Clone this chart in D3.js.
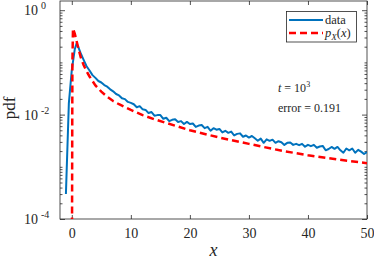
<!DOCTYPE html>
<html>
<head>
<meta charset="utf-8">
<title>pdf</title>
<script src="https://cdn.jsdelivr.net/npm/d3@7"></script>
<style>
  body { margin: 0; background: #fff; }
  text { font-family: "Liberation Serif", "Times New Roman", serif; fill: #262626; }
</style>
</head>
<body>
<script>
// simulated histogram (blue) and p_X(x) (red dashed)
var dataX = [-1, -0.5, 0, 0.5, 0.8, 1, 1.5, 2, 2.5, 3, 3.5, 4, 4.5, 5, 5.5, 6, 6.5, 7, 7.5, 8, 8.5, 9, 9.5, 10,
  10.5, 11, 11.5, 12, 12.5, 13, 13.5, 14, 14.5, 15, 15.5, 16, 16.5, 17, 17.5, 18, 18.5, 19, 19.5, 20,
  20.5, 21, 21.5, 22, 22.5, 23, 23.5, 24, 24.5, 25, 25.5, 26, 26.5, 27, 27.5, 28, 28.5, 29, 29.5, 30,
  30.5, 31, 31.5, 32, 32.5, 33, 33.5, 34, 34.5, 35, 35.5, 36, 36.5, 37, 37.5, 38, 38.5, 39, 39.5, 40,
  40.5, 41, 41.5, 42, 42.5, 43, 43.5, 44, 44.5, 45, 45.5, 46, 46.5, 47, 47.5, 48, 48.5, 49, 49.5, 50];
var dataPdf = [0.000302, 0.0166, 0.072, 0.178, 0.229, 0.209, 0.150, 0.112, 0.0845, 0.0700, 0.0570, 0.0505, 0.0440, 0.0412, 0.0368, 0.0343, 0.0305, 0.0279, 0.0248, 0.0233, 0.0205, 0.0198, 0.0175, 0.0168,
  0.0158, 0.0138, 0.0145, 0.0126, 0.0123, 0.0107, 0.0112, 0.00955, 0.00977, 0.00977, 0.00832, 0.00871, 0.00750, 0.00794, 0.00813, 0.00724, 0.00750, 0.00661, 0.00724, 0.00661,
  0.00676, 0.00582, 0.00617, 0.00631, 0.00550, 0.00582, 0.00490, 0.00550, 0.00513, 0.00531, 0.00457, 0.00490, 0.00447, 0.00473, 0.00398, 0.00427, 0.00437, 0.00376, 0.00398, 0.00363,
  0.00389, 0.00351, 0.00316, 0.00347, 0.00288, 0.00335, 0.00314, 0.00331, 0.00288, 0.00309, 0.00295, 0.00263, 0.00288, 0.00292, 0.00263, 0.00275, 0.00260, 0.00275, 0.00243, 0.00263,
  0.00248, 0.00263, 0.00232, 0.00245, 0.00251, 0.00207, 0.00219, 0.00240, 0.00221, 0.00240, 0.00207, 0.00186, 0.00224, 0.00207, 0.00224, 0.00186, 0.00211, 0.00195, 0.00176, 0.00191];

var theoryX = [0, 0.1, 0.2, 0.5, 0.75, 1, 1.5, 2, 2.5, 3, 4, 5, 6, 7, 8, 10, 12, 14, 16, 18, 20, 25, 30, 35, 40, 45, 50];
var theoryPdf = [1e-6, 0.1, 0.447, 0.355, 0.275, 0.209, 0.126, 0.0891, 0.0676, 0.0537, 0.0363, 0.0275, 0.0219, 0.0182, 0.0158, 0.0123, 0.00977, 0.00813, 0.00692, 0.00589, 0.00501, 0.00363, 0.00275, 0.00209, 0.00166, 0.00138, 0.00117];

var xTicks = [0, 10, 20, 30, 40, 50];
var yTicks = [1e-4, 1e-2, 1];
var yTickExp = ["-4", "-2", "0"];
var legendLabels = ["data", "p_X(x)"];

var W = 374, H = 260;
var pLeft = 60, pRight = 367, pTop = 1, pBottom = 219;

var svg = d3.select("body").append("svg")
  .attr("width", W)
  .attr("height", H);

var x = d3.scaleLinear().domain([-2, 50]).range([pLeft, pRight]);
var y = d3.scaleLog().domain([1e-4, 1.5]).range([pBottom, pTop]);

svg.append("clipPath").attr("id", "clip")
  .append("rect")
  .attr("x", pLeft).attr("y", pTop)
  .attr("width", pRight - pLeft).attr("height", pBottom - pTop);

// minor log ticks
var minor = [];
for (var e = -4; e <= 0; e++) {
  for (var m = 1; m <= 9; m++) {
    var v = m * Math.pow(10, e);
    if (v >= 1e-4 && v <= 1.5 && yTicks.indexOf(v) < 0) minor.push(v);
  }
}

function styleAxis(g) {
  g.select(".domain").remove();
  g.selectAll(".tick line").attr("stroke", "#262626").attr("stroke-width", 0.8);
}

svg.append("g").attr("transform", "translate(0," + pBottom + ")")
  .call(d3.axisBottom(x).tickValues(xTicks).tickSize(-4).tickPadding(9))
  .call(styleAxis)
  .selectAll("text")
  .style("font-family", "Liberation Serif")
  .style("font-size", "14px")
  .attr("fill", "#262626");

svg.append("g").attr("transform", "translate(0," + pTop + ")")
  .call(d3.axisTop(x).tickValues(xTicks).tickSize(-4).tickFormat(""))
  .call(styleAxis);

svg.append("g").attr("transform", "translate(" + pLeft + ",0)")
  .call(d3.axisLeft(y).tickValues(yTicks).tickSize(-5).tickFormat(""))
  .call(styleAxis);
svg.append("g").attr("transform", "translate(" + pLeft + ",0)")
  .call(d3.axisLeft(y).tickValues(minor).tickSize(-2.5).tickFormat(""))
  .call(styleAxis);
svg.append("g").attr("transform", "translate(" + pRight + ",0)")
  .call(d3.axisRight(y).tickValues(yTicks).tickSize(-5).tickFormat(""))
  .call(styleAxis);
svg.append("g").attr("transform", "translate(" + pRight + ",0)")
  .call(d3.axisRight(y).tickValues(minor).tickSize(-2.5).tickFormat(""))
  .call(styleAxis);

// y tick labels 10^k
yTicks.forEach(function (t, i) {
  var lab = svg.append("text")
    .attr("x", 24)
    .attr("y", y(t) + 5)
    .style("font-size", "14px");
  lab.append("tspan").text("10");
  lab.append("tspan")
    .attr("dx", 3)
    .attr("dy", -6)
    .style("font-size", "10px")
    .text(yTickExp[i]);
});

// box
svg.append("rect")
  .attr("x", pLeft).attr("y", pTop)
  .attr("width", pRight - pLeft).attr("height", pBottom - pTop)
  .attr("fill", "none")
  .attr("stroke", "#262626")
  .attr("stroke-width", 0.8);

var line = d3.line()
  .x(function (d) { return x(d[0]); })
  .y(function (d) { return y(d[1]); });

var plot = svg.append("g").attr("clip-path", "url(#clip)");

plot.append("path")
  .datum(dataX.map(function (v, i) { return [v, dataPdf[i]]; }))
  .attr("d", line)
  .attr("fill", "none")
  .attr("stroke", "#0072BD")
  .attr("stroke-width", 2)
  .attr("stroke-linejoin", "round");

plot.append("path")
  .datum(theoryX.map(function (v, i) { return [v, theoryPdf[i]]; }))
  .attr("d", line)
  .attr("fill", "none")
  .attr("stroke", "#FF0000")
  .attr("stroke-width", 2.5)
  .attr("stroke-dasharray", "7,4");

// axis labels
svg.append("text")
  .attr("transform", "translate(15," + 108 + ") rotate(-90)")
  .attr("text-anchor", "middle")
  .style("font-size", "17px")
  .text("pdf");

svg.append("text")
  .attr("x", (pLeft + pRight) / 2)
  .attr("y", 256)
  .attr("text-anchor", "middle")
  .style("font-size", "18px")
  .style("font-style", "italic")
  .text("x");

// legend
var lg = svg.append("g");
lg.append("rect")
  .attr("x", 286.5).attr("y", 11.5)
  .attr("width", 70).attr("height", 30.5)
  .attr("fill", "#fff")
  .attr("stroke", "#262626")
  .attr("stroke-width", 0.8);
lg.append("line")
  .attr("x1", 289).attr("x2", 323).attr("y1", 20).attr("y2", 20)
  .attr("stroke", "#0072BD").attr("stroke-width", 2);
lg.append("line")
  .attr("x1", 289).attr("x2", 323).attr("y1", 33).attr("y2", 33)
  .attr("stroke", "#FF0000").attr("stroke-width", 2.5)
  .attr("stroke-dasharray", "7,4");
lg.append("text")
  .attr("x", 325).attr("y", 24)
  .style("font-size", "12.5px")
  .text(legendLabels[0]);
var pl = lg.append("text")
  .attr("x", 325).attr("y", 37)
  .style("font-size", "12.5px");
pl.append("tspan").style("font-style", "italic").text("p");
pl.append("tspan").attr("dy", 3).style("font-size", "9px").style("font-style", "italic").text("X");
pl.append("tspan").attr("dy", -3).text("(");
pl.append("tspan").style("font-style", "italic").text("x");
pl.append("tspan").text(")");

// annotations
var t1 = svg.append("text").attr("x", 278).attr("y", 92).style("font-size", "12px");
t1.append("tspan").style("font-style", "italic").text("t");
t1.append("tspan").text(" = 10");
t1.append("tspan").attr("dy", -5).style("font-size", "8px").text("3");

svg.append("text").attr("x", 278).attr("y", 112).style("font-size", "12px")
  .text("error = 0.191");
</script>
</body>
</html>
